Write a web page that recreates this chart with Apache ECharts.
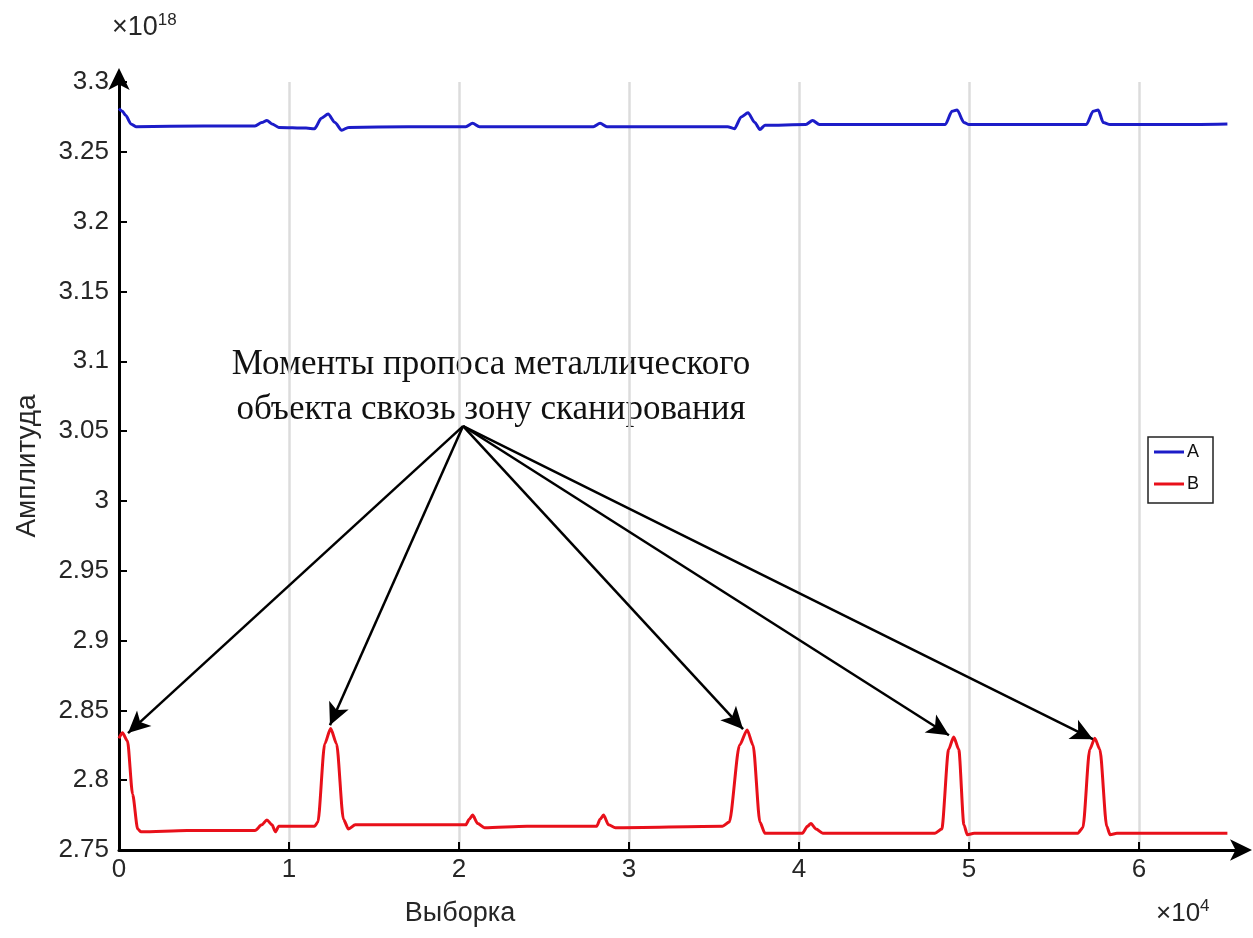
<!DOCTYPE html>
<html>
<head>
<meta charset="utf-8">
<script src="https://cdn.jsdelivr.net/npm/echarts@6/dist/echarts.min.js"></script>
<style>
  html, body { margin: 0; padding: 0; background: #fff; }
  #chart { width: 1253px; height: 938px; }
</style>
</head>
<body>
<div id="chart"></div>
<script>
// x in units of 1e4 samples, y in units of 1e18
const seriesA = [
  [0, 3.281], [0.02, 3.279], [0.04, 3.276], [0.07, 3.270], [0.1, 3.268],
  [0.5, 3.2685], [0.8, 3.2685], [0.84, 3.271], [0.87, 3.2725], [0.9, 3.270],
  [0.94, 3.2675], [1.1, 3.267], [1.15, 3.2665], [1.19, 3.274], [1.23, 3.277],
  [1.27, 3.271], [1.31, 3.2655], [1.35, 3.2675], [1.7, 3.268], [2.04, 3.268],
  [2.08, 3.2705], [2.12, 3.268], [2.5, 3.268], [2.79, 3.268], [2.83, 3.2705],
  [2.87, 3.268], [3.3, 3.268], [3.58, 3.268], [3.62, 3.2665], [3.66, 3.275],
  [3.70, 3.278], [3.74, 3.271], [3.77, 3.266], [3.8, 3.269], [4.04, 3.2695],
  [4.08, 3.2725], [4.12, 3.2695], [4.5, 3.2695], [4.86, 3.2695], [4.9, 3.279],
  [4.93, 3.280], [4.97, 3.271], [5.0, 3.2695], [5.69, 3.2695], [5.73, 3.279],
  [5.76, 3.280], [5.79, 3.271], [5.83, 3.2695], [6.2, 3.2695], [6.52, 3.270]
];

const seriesB = [
  [0, 2.830], [0.02, 2.834], [0.05, 2.828], [0.08, 2.79], [0.11, 2.765],
  [0.13, 2.763], [0.4, 2.764], [0.8, 2.764], [0.84, 2.768], [0.87, 2.7715],
  [0.9, 2.768], [0.92, 2.763], [0.94, 2.767], [1.15, 2.767], [1.17, 2.770],
  [1.21, 2.826], [1.245, 2.837], [1.28, 2.826], [1.32, 2.772], [1.35, 2.765],
  [1.39, 2.768], [2.04, 2.768], [2.06, 2.772], [2.08, 2.775], [2.11, 2.769],
  [2.15, 2.766], [2.4, 2.767], [2.81, 2.767], [2.83, 2.772], [2.85, 2.775],
  [2.88, 2.768], [2.92, 2.766], [3.55, 2.767], [3.59, 2.770], [3.65, 2.825],
  [3.695, 2.836], [3.73, 2.825], [3.77, 2.77], [3.80, 2.762], [4.02, 2.762],
  [4.05, 2.767], [4.07, 2.769], [4.10, 2.765], [4.14, 2.762], [4.8, 2.762],
  [4.84, 2.765], [4.88, 2.822], [4.91, 2.831], [4.94, 2.822], [4.97, 2.768],
  [4.99, 2.761], [5.03, 2.762], [5.64, 2.762], [5.67, 2.766], [5.71, 2.822],
  [5.74, 2.830], [5.77, 2.822], [5.81, 2.767], [5.83, 2.761], [5.87, 2.762],
  [6.52, 2.762]
];

const xTicks = [0, 1, 2, 3, 4, 5, 6];

// annotation: arrows from the caption to the peaks of B
const arrowFrom = [2.024, 3.0536];
const arrowTo = [
  [0.053, 2.8337], [1.241, 2.8394], [3.671, 2.8365], [4.882, 2.8322], [5.729, 2.8294]
];
const captionLines = ['Моменты пропоса металлического', 'объекта свкозь зону сканирования'];

const chart = echarts.init(document.getElementById('chart'));
const labelColor = '#262626';
const sans = 'Liberation Sans';

chart.setOption({
  animation: false,
  backgroundColor: '#fff',
  grid: { left: 119, right: 12, top: 82, bottom: 88 },
  xAxis: {
    type: 'value',
    min: 0,
    max: 6.6,
    interval: 1,
    axisLine: {
      lineStyle: { color: '#000', width: 3 },
      symbol: ['none', 'arrow'],
      symbolSize: [16, 22],
      symbolOffset: [0, 11]
    },
    axisTick: {
      inside: true, length: 8, customValues: xTicks,
      lineStyle: { color: '#000', width: 2 }
    },
    axisLabel: {
      color: labelColor, fontSize: 26, fontFamily: sans, margin: 7,
      customValues: xTicks,
      formatter: v => (Number.isInteger(v) ? String(v) : '')
    },
    splitLine: {
      show: true, showMinLine: false, showMaxLine: true,
      lineStyle: { color: '#dcdcdc', width: 2.5 }
    }
  },
  yAxis: {
    type: 'value',
    min: 2.75,
    max: 3.3,
    interval: 0.05,
    name: 'Амплитуда',
    nameLocation: 'middle',
    nameGap: 78,
    nameTextStyle: { color: labelColor, fontSize: 28, fontFamily: sans },
    axisLine: {
      lineStyle: { color: '#000', width: 3 },
      symbol: ['none', 'arrow'],
      symbolSize: [16, 22],
      symbolOffset: [0, 14]
    },
    axisTick: { inside: true, length: 8, lineStyle: { color: '#000', width: 2 } },
    axisLabel: {
      color: labelColor, fontSize: 26, fontFamily: sans, margin: 10,
      formatter: v => String(+v.toFixed(2))
    },
    splitLine: { show: false }
  },
  legend: {
    orient: 'vertical',
    left: 1148,
    top: 437,
    data: [
      { name: 'A', icon: 'rect' },
      { name: 'B', icon: 'rect' }
    ],
    itemWidth: 30,
    itemHeight: 3,
    itemGap: 14,
    padding: [6, 14, 10, 6],
    borderColor: '#222',
    borderWidth: 1.5,
    backgroundColor: '#fff',
    textStyle: { color: '#111', fontSize: 18, fontFamily: sans, padding: [0, 0, 0, -2] }
  },
  graphic: [
    {
      type: 'text', left: 112, top: 12,
      style: {
        text: '{a|×10}{b|18}',
        rich: {
          a: { fontSize: 27, fontFamily: sans, fill: labelColor },
          b: { fontSize: 17, fontFamily: sans, fill: labelColor, padding: [0, 0, 14, 0] }
        }
      }
    },
    {
      type: 'text', left: 1156, top: 898,
      style: {
        text: '{a|×10}{b|4}',
        rich: {
          a: { fontSize: 26, fontFamily: sans, fill: labelColor },
          b: { fontSize: 17, fontFamily: sans, fill: labelColor, padding: [0, 0, 14, 0] }
        }
      }
    },
    {
      type: 'text', x: 460, y: 914,
      style: {
        text: 'Выборка', fontSize: 27, fontFamily: sans, fill: labelColor,
        align: 'center', verticalAlign: 'middle'
      }
    },
    {
      type: 'text', x: 491, y: 387,
      style: {
        text: captionLines.join('\n'), fontSize: 35, lineHeight: 45,
        fontFamily: 'Liberation Serif', fill: '#111',
        align: 'center', verticalAlign: 'middle'
      }
    }
  ],
  series: [
    {
      name: 'A',
      type: 'line',
      data: seriesA,
      symbol: 'none',
      smooth: 0.25,
      smoothMonotone: 'x',
      lineStyle: { color: '#1c1cc8', width: 3 },
      itemStyle: { color: '#1c1cc8' },
      z: 3
    },
    {
      name: 'B',
      type: 'line',
      data: seriesB,
      symbol: 'none',
      smooth: 0.25,
      smoothMonotone: 'x',
      lineStyle: { color: '#e8101a', width: 3 },
      itemStyle: { color: '#e8101a' },
      z: 3,
      markLine: {
        silent: true,
        symbol: ['none', 'arrow'],
        symbolSize: [16, 22],
        label: { show: false },
        lineStyle: { color: '#000', width: 2.5, type: 'solid' },
        emphasis: { disabled: true },
        data: arrowTo.map(p => [{ coord: arrowFrom }, { coord: p }])
      }
    }
  ]
});
</script>
</body>
</html>
